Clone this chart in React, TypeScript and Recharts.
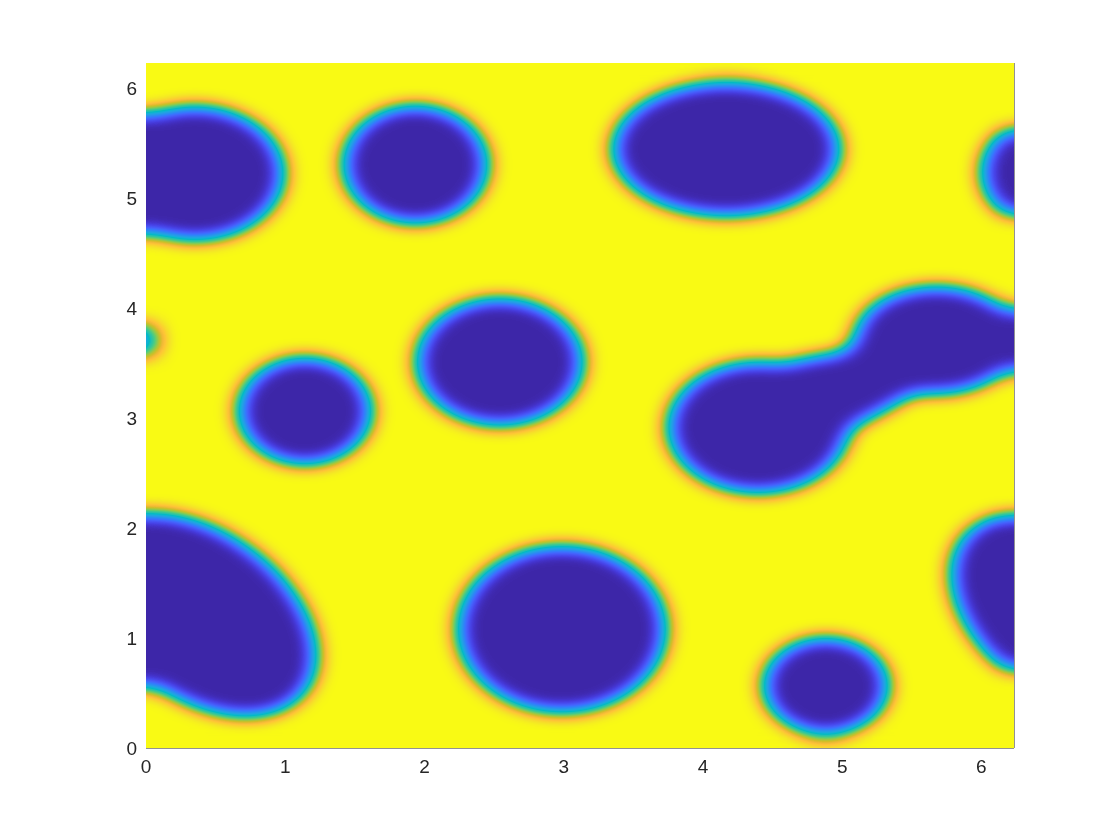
import { ScatterChart, Scatter, XAxis, YAxis, ReferenceLine } from "recharts";

const TWO_PI = 2 * Math.PI;
// pcolor leaves out the last grid cell, so the axes stop one cell short of 2*pi
const X_MAX = (TWO_PI * 127) / 128;
const Y_MAX = (TWO_PI * 127) / 128;

const xTicks = [0, 1, 2, 3, 4, 5, 6];
const yTicks = [0, 1, 2, 3, 4, 5, 6];

// droplets of the low phase: centre, semi-axes (axis units) and tilt (deg)
// the ones cut by the edges are listed again on the other side (periodic domain)
// the peanut on the right is made of a few overlapping pieces
const dropX = [0.352, 6.62, 1.935, 4.168, 1.141, 2.541, 4.397, 5.115, 4.842, 5.677, -0.516, 0.387, 6.62, 2.987, 4.883];
const dropY = [5.23, 5.24, 5.31, 5.45, 3.067, 3.513, 2.918, 3.31, 3.212, 3.712, 3.712, 1.211, 1.211, 1.082, 0.566];
const dropRx = [0.645, 0.625, 0.526, 0.824, 0.486, 0.605, 0.655, 0.754, 0.503, 0.596, 0.615, 0.943, 0.943, 0.754, 0.457];
const dropRy = [0.615, 0.595, 0.546, 0.615, 0.496, 0.586, 0.605, 0.33, 0.364, 0.496, 0.496, 0.764, 0.764, 0.764, 0.447];
const dropTilt = [0, 0, 0, 0, 0, 0, 0, -27, -10, 0, 0, 35.5, 35.5, 0, 0];

const drops = dropX.map((x, i) => ({
    x,
    y: dropY[i],
    rx: dropRx[i],
    ry: dropRy[i],
    tilt: dropTilt[i]
}));

// parula colormap, every third row of the 64 entry table
const parula = [
    [0.2422, 0.1504, 0.6603],
    [0.2647, 0.1978, 0.7952],
    [0.2783, 0.2559, 0.8991],
    [0.281, 0.3228, 0.9579],
    [0.2699, 0.3892, 0.9906],
    [0.2206, 0.4603, 0.9973],
    [0.1786, 0.5289, 0.9682],
    [0.154, 0.5902, 0.9218],
    [0.1248, 0.6459, 0.8883],
    [0.0689, 0.6948, 0.8394],
    [0.0067, 0.7312, 0.766],
    [0.1408, 0.7584, 0.6842],
    [0.2161, 0.7843, 0.5923],
    [0.3406, 0.8008, 0.4789],
    [0.5044, 0.7993, 0.348],
    [0.672, 0.7793, 0.2227],
    [0.8203, 0.7498, 0.1535],
    [0.9393, 0.7288, 0.21],
    [0.997, 0.7659, 0.2199],
    [0.9786, 0.8386, 0.1766],
    [0.9597, 0.9135, 0.1423],
    [0.9769, 0.9839, 0.0805]
];

const W = 1100;
const H = 820;
const margin = { top: 55, right: 94, bottom: 50, left: 98 };
const Y_W = 40;
const X_H = 30;
const plotX = margin.left + Y_W;
const plotY = margin.top;
const plotW = W - plotX - margin.right;
const plotH = H - margin.top - margin.bottom - X_H;
const pxX = plotW / X_MAX;
const pxY = plotH / Y_MAX;

const axisColor = "#262626";
const tickStyle = { fill: axisColor, fontSize: 19, fontFamily: "'Liberation Sans', Arial, sans-serif" };

function Drop(props: any) {
    const { cx, cy, payload } = props;
    return (
        <ellipse
            cx={cx}
            cy={cy}
            rx={payload.rx * pxX}
            ry={payload.ry * pxY}
            transform={`rotate(${payload.tilt} ${cx} ${cy})`}
            fill="#000"
        />
    );
}

const table = (c: number) => parula.map((p) => p[c]).join(" ");

export default function App() {
    return (
        <div style={{ position: "relative" }}>
            <style>{".field .recharts-scatter{filter:url(#phase)}"}</style>
            <svg width={0} height={0} style={{ position: "absolute" }}>
                <defs>
                    <filter
                        id="phase"
                        filterUnits="userSpaceOnUse"
                        x={plotX}
                        y={plotY}
                        width={plotW}
                        height={plotH}
                        colorInterpolationFilters="sRGB"
                    >
                        <feFlood floodColor="#fff" result="bg" />
                        <feComposite in="SourceGraphic" in2="bg" operator="over" result="m" />
                        {/* round off the joins (necks) first */}
                        <feGaussianBlur in="m" stdDeviation="11 9" result="b1" />
                        <feComponentTransfer in="b1" result="s">
                            <feFuncR type="linear" slope={4} intercept={-1.5} />
                            <feFuncG type="linear" slope={4} intercept={-1.5} />
                            <feFuncB type="linear" slope={4} intercept={-1.5} />
                            <feFuncA type="linear" slope={0} intercept={1} />
                        </feComponentTransfer>
                        {/* diffuse interface, then colour it */}
                        <feGaussianBlur in="s" stdDeviation="10 8" result="b2" />
                        <feComponentTransfer in="b2">
                            <feFuncR type="table" tableValues={table(0)} />
                            <feFuncG type="table" tableValues={table(1)} />
                            <feFuncB type="table" tableValues={table(2)} />
                            <feFuncA type="linear" slope={0} intercept={1} />
                        </feComponentTransfer>
                    </filter>
                </defs>
            </svg>
            <ScatterChart className="field" width={W} height={H} margin={margin}>
                <XAxis
                    type="number"
                    dataKey="x"
                    domain={[0, X_MAX]}
                    allowDataOverflow
                    ticks={xTicks}
                    height={X_H}
                    tickLine={false}
                    tickSize={0}
                    tickMargin={12}
                    axisLine={{ stroke: axisColor }}
                    tick={tickStyle}
                />
                <YAxis
                    type="number"
                    dataKey="y"
                    domain={[0, Y_MAX]}
                    allowDataOverflow
                    ticks={yTicks}
                    width={Y_W}
                    tickLine={false}
                    tickSize={0}
                    tickMargin={9}
                    axisLine={false}
                    tick={tickStyle}
                />
                <Scatter data={drops} shape={Drop} isAnimationActive={false} />
                <ReferenceLine x={X_MAX} stroke={axisColor} />
            </ScatterChart>
        </div>
    );
}
